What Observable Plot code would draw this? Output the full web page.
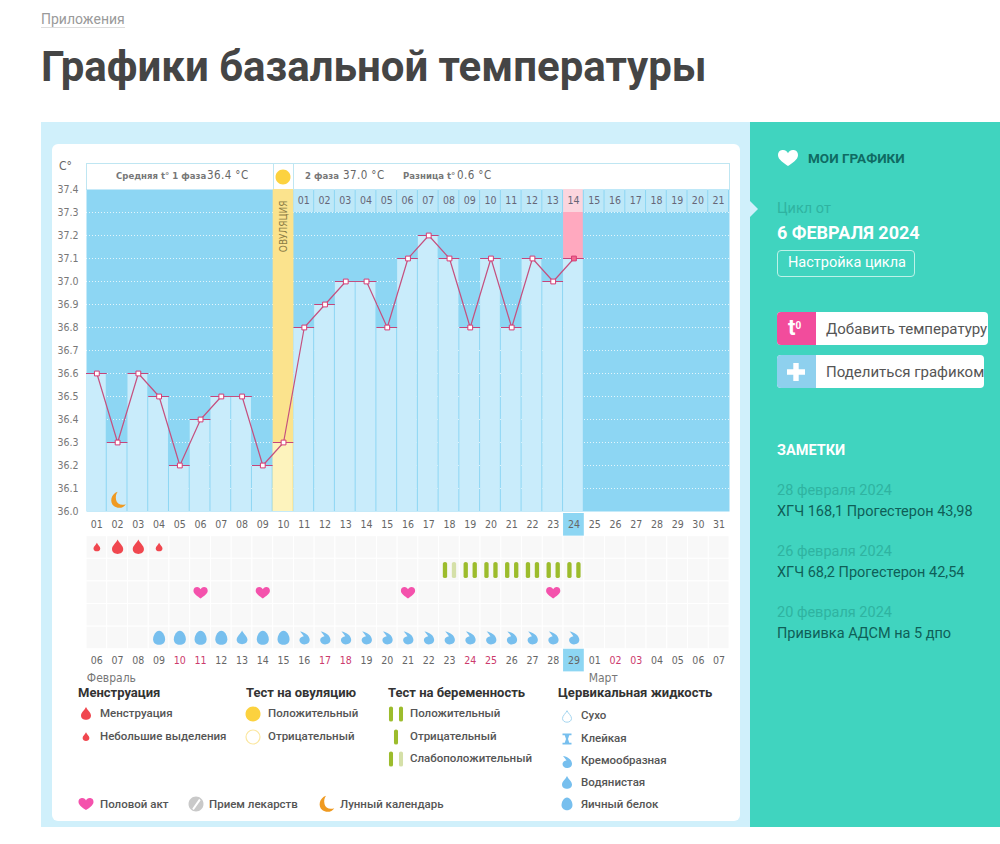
<!DOCTYPE html>
<html lang="ru">
<head>
<meta charset="utf-8">
<script src="https://cdn.jsdelivr.net/npm/d3@7"></script>
<script src="https://cdn.jsdelivr.net/npm/@observablehq/plot@0.6"></script>
<style>
  html, body { margin: 0; background: #fff; }
  #page { position: relative; width: 1000px; height: 844px; overflow: hidden; font-family: Roboto, sans-serif; }
  #page > * { position: absolute; }
  .t { white-space: nowrap; transform: translateY(-50%); line-height: 1; }
  .chartfont { font-family: "DejaVu Sans Condensed", "DejaVu Sans", sans-serif; font-stretch: condensed; color: #666; }
  svg.plot, #page svg { background: transparent; overflow: visible; }
</style>
</head>
<body>
<div id="page"></div>
<script>
// данные графика
const days = ["01","02","03","04","05","06","07","08","09","10","11","12","13","14","15","16","17","18","19","20","21","22","23","24","25","26","27","28","29","30","31"];
const temps = [36.6,36.3,36.6,36.5,36.2,36.4,36.5,36.5,36.2,36.3,36.8,36.9,37.0,37.0,36.8,37.1,37.2,37.1,36.8,37.1,36.8,37.1,37.0,37.1];
const yTicks = [36.0,36.1,36.2,36.3,36.4,36.5,36.6,36.7,36.8,36.9,37.0,37.1,37.2,37.3,37.4];
const dpoDays = ["11","12","13","14","15","16","17","18","19","20","21","22","23","24","25","26","27","28","29","30","31"];
const dpoLabels = ["01","02","03","04","05","06","07","08","09","10","11","12","13","14","15","16","17","18","19","20","21"];
const dates = ["06","07","08","09","10","11","12","13","14","15","16","17","18","19","20","21","22","23","24","25","26","27","28","29","01","02","03","04","05","06","07"];
const weekendDates = ["10","11","17","18","24","25","02","03"];
const rows = ["top","bleed","test","sex","pill","fluid","date","month"];
const gridRows = ["bleed","test","sex","pill","fluid"];
const ovulationDay = "10";
const todayDay = "24";
const moonDays = ["02"];
const bleedLight = ["01","04"];
const bleedHeavy = ["02","03"];
const sexDays = ["06","09","16","23"];
const testDays = ["18","19","20","21","22","23","24"];
const testWeak = ["18"];
const eggDays = ["04","05","06","07","09","10"];
const wateryDays = ["08"];
const creamyDays = ["11","12","13","14","15","16","17","18","19","20","21","22","23","24"];
const notes = [
  ["28 февраля 2024", "ХГЧ 168,1 Прогестерон 43,98"],
  ["26 февраля 2024", "ХГЧ 68,2 Прогестерон 42,54"],
  ["20 февраля 2024", "Прививка АДСМ на 5 дпо"]
];

const tempData = temps.map((t, i) => ({day: days[i], temp: t}));
const chartFont = '"DejaVu Sans Condensed", "DejaVu Sans", sans-serif';

// значки: команды пути в долях радиуса
const shape = segs => ({draw(c, size) {
  const r = Math.sqrt(size / Math.PI);
  for (const [cmd, ...a] of segs) c[cmd](...a.map(v => v * r));
}});
const dropShape = shape([["moveTo",0,-1.4],["bezierCurveTo",.25,-.8,1,-.3,1,.3],["bezierCurveTo",1,.9,.5,1.15,0,1.15],["bezierCurveTo",-.5,1.15,-1,.9,-1,.3],["bezierCurveTo",-1,-.3,-.25,-.8,0,-1.4],["closePath"]]);
const eggShape = shape([["moveTo",0,-1.2],["bezierCurveTo",.55,-1.2,1,-.4,1,.2],["bezierCurveTo",1,.8,.55,1.15,0,1.15],["bezierCurveTo",-.55,1.15,-1,.8,-1,.2],["bezierCurveTo",-1,-.4,-.55,-1.2,0,-1.2],["closePath"]]);
const creamyShape = shape([["moveTo",-.8,-1.2],["bezierCurveTo",0,-1.1,1,-.5,1,.35],["bezierCurveTo",1,.95,.5,1.2,0,1.2],["bezierCurveTo",-.55,1.2,-.9,.8,-.9,.4],["bezierCurveTo",-.9,0,-.5,-.25,-.1,-.3],["bezierCurveTo",-.3,-.6,-.55,-.95,-.8,-1.2],["closePath"]]);
const heartShape = shape([["moveTo",0,1],["bezierCurveTo",-.5,.65,-1.25,.2,-1.25,-.35],["bezierCurveTo",-1.25,-.85,-.9,-1,-.62,-1],["bezierCurveTo",-.3,-1,-.1,-.8,0,-.6],["bezierCurveTo",.1,-.8,.3,-1,.62,-1],["bezierCurveTo",.9,-1,1.25,-.85,1.25,-.35],["bezierCurveTo",1.25,.2,.5,.65,0,1],["closePath"]]);
const moonShape = shape([["moveTo",0,-1.1],["bezierCurveTo",-.9,-.8,-1.1,.3,-.5,.8],["bezierCurveTo",0,1.2,.8,1.1,1.1,.55],["bezierCurveTo",.5,.75,-.1,.55,-.2,0],["bezierCurveTo",-.3,-.5,-.2,-.8,0,-1.1],["closePath"]]);
const barShape = shape([["moveTo",-.27,-.8],["quadraticCurveTo",-.27,-1,0,-1],["quadraticCurveTo",.27,-1,.27,-.8],["lineTo",.27,.8],["quadraticCurveTo",.27,1,0,1],["quadraticCurveTo",-.27,1,-.27,.8],["closePath"]]);
const stickyShape = shape([["moveTo",-.9,-1.1],["lineTo",.9,-1.1],["lineTo",.9,-.75],["lineTo",.45,-.75],["lineTo",.2,0],["lineTo",.45,.75],["lineTo",.9,.75],["lineTo",.9,1.1],["lineTo",-.9,1.1],["lineTo",-.9,.75],["lineTo",-.45,.75],["lineTo",-.2,0],["lineTo",-.45,-.75],["lineTo",-.9,-.75],["closePath"]]);
const plusShape = shape([["moveTo",-.3,-1],["lineTo",.3,-1],["lineTo",.3,-.3],["lineTo",1,-.3],["lineTo",1,.3],["lineTo",.3,.3],["lineTo",.3,1],["lineTo",-.3,1],["lineTo",-.3,.3],["lineTo",-1,.3],["lineTo",-1,-.3],["lineTo",-.3,-.3],["closePath"]]);
const circleShape = shape([["moveTo",1,0],["bezierCurveTo",1,.55,.55,1,0,1],["bezierCurveTo",-.55,1,-1,.55,-1,0],["bezierCurveTo",-1,-.55,-.55,-1,0,-1],["bezierCurveTo",.55,-1,1,-.55,1,0],["closePath"]]);
const stripeShape = shape([["moveTo",-.5,.62],["lineTo",.42,-.7],["lineTo",.62,-.5],["lineTo",-.3,.8],["closePath"]]);

const page = d3.select("#page");

function box(x, y, w, h, css = "") {
  return page.append("div").attr("style", `left:${x}px;top:${y}px;width:${w}px;height:${h}px;${css}`);
}
function label(text, x, y, css = "", cls = "t") {
  return page.append("div").attr("class", cls).attr("style", `left:${x}px;top:${y}px;${css}`).html(text);
}
function icon(sym, x, y, r, fill, stroke = "none", width = 1) {
  const p = d3.path();
  sym.draw(p, Math.PI * r * r);
  page.append("svg").attr("width", 1).attr("height", 1).attr("style", `left:${x}px;top:${y}px;`)
    .append("path").attr("d", p.toString()).attr("fill", fill).attr("stroke", stroke).attr("stroke-width", width);
}

// шапка страницы и фон
label("Приложения", 41, 19, "font-size:14px;color:#9a9a9a;");
box(41, 27, 84, 1, "background:#ddd;");
label("Графики базальной температуры", 41, 67, "font-size:42px;font-weight:700;color:#454545;");
box(41, 122, 709, 705, "background:#d0f0fb;");
box(52, 144, 688, 677, "background:#fff;border-radius:6px;");
box(750, 122, 250, 705, "background:#40d4bf;");

// полоса над графиком
label("С°", 59, 166, "font-size:12px;", "t chartfont");
box(86, 163, 642, 26, "background:#fff;border:1px solid #bfe6f2;border-bottom:0;box-sizing:content-box;");
box(273, 163, 1, 26, "background:#bfe6f2;");
box(293, 163, 1, 26, "background:#bfe6f2;");
icon(circleShape, 283, 177, 7.5, "#fcd23f");
label("Средняя t° 1 фаза", 116, 176, "font-size:9.5px;font-weight:700;color:#777;", "t chartfont");
label("36.4 °С", 207, 176, "font-size:11.5px;letter-spacing:.4px;", "t chartfont");
label("2 фаза", 305, 176, "font-size:9.5px;font-weight:700;color:#777;", "t chartfont");
label("37.0 °С", 343, 176, "font-size:11.5px;letter-spacing:.4px;", "t chartfont");
label("Разница t°", 403, 176, "font-size:9.5px;font-weight:700;color:#777;", "t chartfont");
label("0.6 °С", 457, 176, "font-size:11.5px;letter-spacing:.4px;", "t chartfont");

// шкала дней общая для обоих графиков
const xScale = {type: "band", domain: days, padding: 0, round: false, axis: null};

const mainChart = Plot.plot({
  width: 750, height: 353,
  marginLeft: 86, marginRight: 21, marginTop: 29, marginBottom: 2,
  x: xScale,
  y: {domain: [36.0, 37.4], axis: null},
  style: {background: "transparent", fontFamily: chartFont, fontSize: "10.5px", overflow: "visible"},
  marks: [
    Plot.frame({fill: "#8dd6f3", stroke: null}),
    Plot.ruleY(yTicks.slice(1, -1), {stroke: "#fff", strokeOpacity: .75, strokeDasharray: "1,2"}),
    Plot.barY([ovulationDay], {x: d => d, y1: 36.0, y2: 37.4, fill: "#fbe38d"}),
    Plot.barY(dpoDays, {x: d => d, y1: 37.3, y2: 37.4, fill: d => d === todayDay ? "#fbd5de" : "#bee8f8", insetRight: 1}),
    Plot.barY([todayDay], {x: d => d, y1: 37.1, y2: 37.3, fill: "#ffa9bf", insetRight: 1}),
    Plot.barY(tempData, {x: "day", y1: 36.0, y2: "temp", fill: d => d.day === ovulationDay ? "#fdf3bd" : "#c9ecfb", insetRight: 1}),
    Plot.text(dpoDays, {x: d => d, y: 37.35, text: (d, i) => dpoLabels[i], fill: "#667", dx: -.5}),
    Plot.text([ovulationDay], {x: d => d, y: 37.24, text: () => "ОВУЛЯЦИЯ", rotate: -90, fill: "#8a7c45", fontSize: 10}),
    Plot.dot(moonDays, {x: d => d, y: 36.05, symbol: moonShape, r: 7.5, fill: "#ef9a21"}),
    Plot.tickY(tempData, {x: "day", y: "temp", stroke: "#c5457a"}),
    Plot.line(tempData, {x: "day", y: "temp", stroke: "#c5507f", strokeWidth: 1.2}),
    Plot.dot(tempData, {x: "day", y: "temp", symbol: "square", r: 2.7, fill: d => d.day === todayDay ? "#f2688f" : "#fff", stroke: "#d63c74", strokeWidth: 1}),
    Plot.axisY({ticks: yTicks, tickFormat: d => d.toFixed(1), tickSize: 0, tickPadding: 8, label: null, fill: "#777"})
  ]
});
mainChart.style.left = "0px";
mainChart.style.top = "160px";
page.node().append(mainChart);

const dateRows = days.map((d, i) => ({day: d, date: dates[i]}));

const lowerChart = Plot.plot({
  width: 750, height: 181,
  marginLeft: 86, marginRight: 21, marginTop: 0, marginBottom: 0,
  x: xScale,
  y: {type: "band", domain: rows, padding: 0, round: false, axis: null},
  style: {background: "transparent", fontFamily: chartFont, fontSize: "10.5px", overflow: "visible"},
  marks: [
    Plot.cell(d3.cross(days, gridRows), {x: "0", y: "1", fill: "#f8f8f8", stroke: "#fff"}),
    Plot.cell([todayDay], {x: d => d, y: () => "top", fill: "#8dd6f3"}),
    Plot.cell([todayDay], {x: d => d, y: () => "date", fill: "#8dd6f3"}),
    Plot.text(days, {x: d => d, y: () => "top", text: d => d, fill: "#666"}),
    Plot.text(dateRows, {x: "day", y: () => "date", text: "date", fill: d => weekendDates.includes(d.date) && d.day !== todayDay ? "#cc3a6c" : "#666"}),
    Plot.dot(bleedLight, {x: d => d, y: () => "bleed", symbol: dropShape, r: 3.4, fill: "#f0474f"}),
    Plot.dot(bleedHeavy, {x: d => d, y: () => "bleed", symbol: dropShape, r: 5.6, fill: "#f0474f"}),
    Plot.dot(testDays, {x: d => d, y: () => "test", symbol: barShape, r: 8, dx: -4.5, fill: "#9cbc2c"}),
    Plot.dot(testDays, {x: d => d, y: () => "test", symbol: barShape, r: 8, dx: 4.5, fill: d => testWeak.includes(d) ? "#d5e0a8" : "#9cbc2c"}),
    Plot.dot(sexDays, {x: d => d, y: () => "sex", symbol: heartShape, r: 5.7, fill: "#f452ac"}),
    Plot.dot(eggDays, {x: d => d, y: () => "fluid", symbol: eggShape, r: 6, fill: "#77bfee"}),
    Plot.dot(wateryDays, {x: d => d, y: () => "fluid", symbol: dropShape, r: 5.4, fill: "#77bfee"}),
    Plot.dot(creamyDays, {x: d => d, y: () => "fluid", symbol: creamyShape, r: 5.4, fill: "#77bfee"}),
    Plot.text(["01"], {x: d => d, y: () => "month", text: () => "Февраль", textAnchor: "start", dx: -10, dy: -5, fill: "#777", fontSize: 12}),
    Plot.text(["25"], {x: d => d, y: () => "month", text: () => "Март", textAnchor: "start", dx: -6, dy: -5, fill: "#777", fontSize: 12}),
    Plot.ruleX(["25"], {x: d => d, y: () => "date", dx: -10.4, stroke: "#777"}),
    Plot.ruleX(["25"], {x: d => d, y: () => "month", dx: -10.4, stroke: "#777", insetBottom: 10})
  ]
});
lowerChart.style.left = "0px";
lowerChart.style.top = "513px";
page.node().append(lowerChart);

// легенда
const head = "font-size:13px;font-weight:700;color:#333;";
const item = "font-size:11.5px;color:#555;font-weight:500;";
label("Менструация", 78, 692, head);
label("Тест на овуляцию", 246, 692, head);
label("Тест на беременность", 388, 692, head);
label("Цервикальная жидкость", 558, 692, head);

icon(dropShape, 86, 714, 5, "#f0474f");
label("Менструация", 100, 714, item);
icon(dropShape, 86, 737, 3.4, "#f0474f");
label("Небольшие выделения", 100, 737, item);

icon(circleShape, 253, 714, 7.5, "#fcd23f");
label("Положительный", 268, 714, item);
icon(circleShape, 253, 737, 7, "#fff", "#fbe7a0", 1.2);
label("Отрицательный", 268, 737, item);

icon(barShape, 391, 714, 7.5, "#9cbc2c");
icon(barShape, 401, 714, 7.5, "#9cbc2c");
label("Положительный", 410, 714, item);
icon(barShape, 396, 737, 7.5, "#9cbc2c");
label("Отрицательный", 410, 737, item);
icon(barShape, 391, 759, 7.5, "#9cbc2c");
icon(barShape, 401, 759, 7.5, "#d5e0a8");
label("Слабоположительный", 410, 759, item);

icon(dropShape, 567, 717, 4.5, "#fff", "#a5d6f0", 1);
label("Сухо", 581, 716, item);
icon(stickyShape, 567, 739, 5, "#77bfee");
label("Клейкая", 581, 739, item);
icon(creamyShape, 567, 762, 5, "#77bfee");
label("Кремообразная", 581, 761, item);
icon(dropShape, 567, 783, 5, "#77bfee");
label("Водянистая", 581, 783, item);
icon(eggShape, 567, 804, 5.5, "#77bfee");
label("Яичный белок", 581, 805, item);

icon(heartShape, 86, 804, 6, "#f452ac");
label("Половой акт", 100, 805, item);
icon(circleShape, 196, 804, 7.5, "#c9c9c9");
icon(stripeShape, 196, 804, 7.5, "#fff");
label("Прием лекарств", 209, 805, item);
icon(moonShape, 326, 804, 7.5, "#ef9a21");
label("Лунный календарь", 340, 805, item);

// боковая панель
page.append("svg").attr("width", 1).attr("height", 1).attr("style", "left:750px;top:209px;")
  .append("path").attr("d", "M0,-8L8,0L0,8Z").attr("fill", "#d0f0fb");
icon(heartShape, 788, 158, 8, "#fff");
label("МОИ ГРАФИКИ", 808, 159, "font-size:13.5px;font-weight:700;color:#0f6b63;");
label("Цикл от", 777, 209, "font-size:14.5px;color:#2fb3a1;");
label("6 ФЕВРАЛЯ 2024", 777, 233, "font-size:18px;font-weight:700;color:#fff;");
box(777, 250, 136, 25, "border:1px solid #bdf2e8;border-radius:4px;");
label("Настройка цикла", 788, 263, "font-size:14.5px;color:#fff;");

box(777, 312, 211, 33, "background:#fff;border-radius:4px;");
box(777, 312, 39, 33, "background:#f24c9c;border-radius:4px 0 0 4px;");
label("t<sup style='font-size:10px;vertical-align:6px'>0</sup>", 788, 328, "font-size:22px;font-weight:700;color:#fff;");
label("Добавить температуру", 826, 329, "font-size:15px;color:#555;");
box(777, 355, 207, 33, "background:#fff;border-radius:4px;");
box(777, 355, 39, 33, "background:#8ed0ee;border-radius:4px 0 0 4px;");
icon(plusShape, 796, 372, 9, "#fff");
label("Поделиться графиком", 826, 372, "font-size:15px;color:#555;");

label("ЗАМЕТКИ", 777, 451, "font-size:14.5px;font-weight:700;color:#fff;");
notes.forEach(([date, text], i) => {
  const top = [491, 552, 613][i];
  label(date, 777, top, "font-size:14.5px;color:#2fb3a1;");
  label(text, 777, top + 21, "font-size:14.5px;color:#0f5f58;");
});
</script>
</body>
</html>
